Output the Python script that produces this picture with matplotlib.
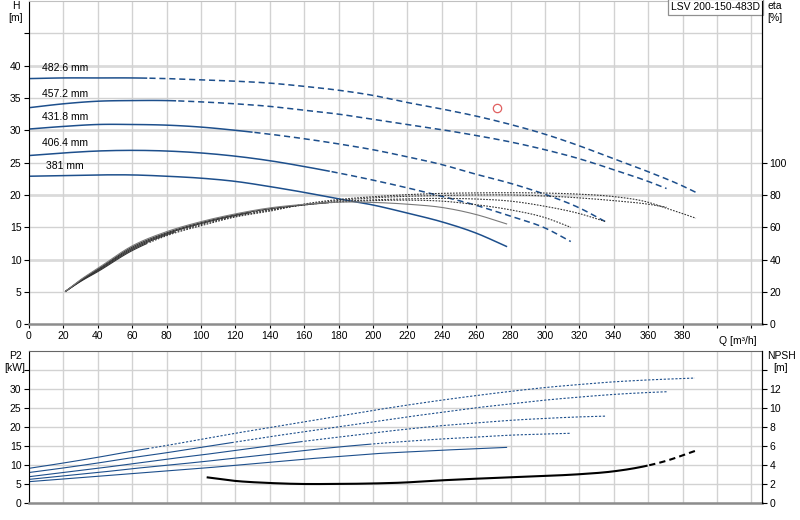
import numpy as np
import matplotlib
matplotlib.use("Agg")
import matplotlib.pyplot as plt

plt.rcParams['font.family'] = ['Liberation Sans', 'DejaVu Sans']
plt.rcParams['font.size'] = 7.5

# impeller diameters and their labels
diam_labels = ["482.6 mm", "457.2 mm", "431.8 mm", "406.4 mm", "381 mm"]
pump_name = "LSV 200-150-483D"

# head curves H [m] vs Q [m3/h]
q_482 = [0, 20, 40, 60, 80, 100, 120, 140, 160, 180, 200, 220, 240, 260, 280, 300, 320, 340, 360, 380, 387.8]
h_482 = [38.0, 38.1, 38.1, 38.1, 38.0, 37.8, 37.6, 37.3, 36.8, 36.2, 35.4, 34.3, 33.3, 32.2, 30.9, 29.4, 27.6, 25.6, 23.6, 21.4, 20.4]
q_457 = [0, 20, 40, 60, 80, 100, 120, 140, 160, 180, 200, 220, 240, 260, 280, 300, 320, 340, 360, 370.7]
h_457 = [33.5, 34.1, 34.5, 34.6, 34.6, 34.4, 34.1, 33.7, 33.1, 32.5, 31.7, 30.9, 30.1, 29.2, 28.2, 27.0, 25.6, 23.9, 22.1, 21.0]
q_431 = [0, 20, 40, 60, 80, 100, 120, 140, 160, 180, 200, 220, 240, 260, 280, 300, 320, 335]
h_431 = [30.2, 30.6, 30.9, 30.9, 30.8, 30.5, 30.0, 29.4, 28.7, 27.9, 27.0, 25.9, 24.7, 23.2, 21.8, 20.1, 18.0, 15.9]
q_406 = [0, 20, 40, 60, 80, 100, 120, 140, 160, 180, 200, 220, 240, 260, 280, 300, 315]
h_406 = [26.1, 26.5, 26.8, 26.9, 26.8, 26.5, 26.0, 25.3, 24.4, 23.4, 22.3, 21.1, 19.8, 18.4, 16.7, 14.9, 12.8]
q_381 = [0, 20, 40, 60, 80, 100, 120, 140, 160, 180, 200, 220, 240, 260, 278]
h_381 = [22.9, 23.0, 23.1, 23.1, 22.9, 22.6, 22.1, 21.3, 20.4, 19.4, 18.45, 17.2, 15.85, 14.1, 12.0]

# efficiency curves eta [%]
qe_482 = [21, 30, 40, 60, 80, 100, 120, 140, 160, 180, 200, 220, 240, 260, 280, 300, 320, 340, 360, 370, 380, 387.8]
eta_482 = [20.2, 26.5, 32.6, 45.6, 54.8, 61.0, 66.4, 70.0, 74.4, 77.2, 78.9, 80.2, 81.0, 81.3, 81.4, 81.2, 80.5, 79.0, 75.5, 72.0, 68.5, 65.6]
qe_457 = [21, 30, 40, 60, 80, 100, 120, 140, 160, 180, 200, 220, 240, 260, 280, 300, 320, 340, 360, 370.7]
eta_457 = [20.2, 26.8, 33.1, 46.3, 55.4, 61.7, 66.8, 70.6, 74.0, 76.6, 78.2, 79.2, 79.7, 80.0, 80.0, 79.4, 78.2, 76.5, 74.3, 72.4]
qe_431 = [21, 30, 40, 60, 80, 100, 120, 140, 160, 180, 200, 220, 240, 260, 280, 300, 320, 335]
eta_431 = [20.2, 27.0, 33.6, 47.0, 56.0, 62.3, 67.3, 71.0, 73.8, 75.9, 77.0, 77.6, 77.9, 77.5, 76.2, 73.0, 68.5, 63.6]
qe_406 = [21, 30, 40, 60, 80, 100, 120, 140, 160, 180, 200, 220, 240, 260, 280, 300, 315]
eta_406 = [20.2, 27.3, 34.1, 47.8, 56.6, 62.9, 67.8, 71.5, 73.9, 75.6, 76.5, 76.8, 76.2, 74.0, 70.8, 66.0, 60.0]
qe_381 = [21, 30, 40, 60, 80, 100, 120, 140, 160, 180, 200, 220, 240, 260, 278]
eta_381 = [20.2, 27.6, 34.6, 48.5, 57.3, 63.5, 68.3, 72.0, 74.2, 75.6, 75.4, 74.3, 72.3, 67.9, 62.0]

# shaft power P2 [kW]
qp_482 = [0, 20, 40, 60, 80, 100, 120, 140, 160, 180, 200, 220, 240, 260, 280, 300, 320, 340, 360, 387.2]
p_482 = [9.1, 10.5, 12.0, 13.6, 15.1, 16.7, 18.3, 19.8, 21.3, 22.8, 24.3, 25.7, 27.0, 28.2, 29.3, 30.3, 31.1, 31.8, 32.3, 32.8]
qp_457 = [0, 20, 40, 60, 80, 100, 120, 140, 160, 180, 200, 220, 240, 260, 280, 300, 320, 340, 360, 370.7]
p_457 = [8.0, 9.2, 10.5, 11.9, 13.2, 14.6, 16.0, 17.4, 18.7, 20.0, 21.3, 22.6, 23.8, 25.0, 26.0, 27.0, 27.8, 28.5, 29.0, 29.2]
qp_431 = [0, 20, 40, 60, 80, 100, 120, 140, 160, 180, 200, 220, 240, 260, 280, 300, 320, 335]
p_431 = [6.9, 8.0, 9.1, 10.3, 11.5, 12.6, 13.8, 15.0, 16.2, 17.3, 18.4, 19.4, 20.3, 21.0, 21.7, 22.2, 22.6, 22.8]
qp_406 = [0, 20, 40, 60, 80, 100, 120, 140, 160, 180, 200, 220, 240, 260, 280, 300, 315]
p_406 = [6.2, 7.1, 8.0, 9.0, 9.9, 10.8, 11.8, 12.8, 13.8, 14.7, 15.5, 16.2, 16.8, 17.3, 17.8, 18.1, 18.3]
qp_381 = [0, 20, 40, 60, 80, 100, 120, 140, 160, 180, 200, 220, 240, 260, 278]
p_381 = [5.6, 6.3, 7.0, 7.7, 8.4, 9.1, 9.9, 10.7, 11.5, 12.2, 12.9, 13.4, 13.85, 14.25, 14.6]

# NPSH required [m]
q_npsh = [103.3, 118.7, 140, 157.6, 177, 200, 215.7, 240, 260, 280, 300, 320, 339.7, 359, 370, 387.2]
npsh = [2.7, 2.34, 2.1, 2.0, 2.0, 2.05, 2.13, 2.38, 2.55, 2.7, 2.84, 3.02, 3.32, 3.9, 4.4, 5.46]

# duty point
duty_q = [272]
duty_h = [33.4]

# flow where each curve turns from solid to dashed
head_solid_to = [70, 86, 130, 175, 400]
power_solid_to = [70, 120, 160, 200, 400]

heads = [(q_482, h_482), (q_457, h_457), (q_431, h_431), (q_406, h_406), (q_381, h_381)]
etas = [(qe_482, eta_482), (qe_457, eta_457), (qe_431, eta_431), (qe_406, eta_406), (qe_381, eta_381)]
powers = [(qp_482, p_482), (qp_457, p_457), (qp_431, p_431), (qp_406, p_406), (qp_381, p_381)]

BLUE = "#1d4f8c"
GRID = "#d2d2d2"
W, H = 800, 520


def smooth(q, v, n=300):
    """Cubic Hermite through the read points so the curves are not angular."""
    q = np.asarray(q, float)
    v = np.asarray(v, float)
    m = np.gradient(v, q)
    qq = np.linspace(q[0], q[-1], n)
    idx = np.clip(np.searchsorted(q, qq) - 1, 0, len(q) - 2)
    h = q[idx + 1] - q[idx]
    t = (qq - q[idx]) / h
    h00 = 2 * t**3 - 3 * t**2 + 1
    h10 = t**3 - 2 * t**2 + t
    h01 = -2 * t**3 + 3 * t**2
    h11 = t**3 - t**2
    vv = h00 * v[idx] + h10 * h * m[idx] + h01 * v[idx + 1] + h11 * h * m[idx + 1]
    return qq, vv


def draw_curve(ax, q, v, q_break, color, lw, dashes):
    qq, vv = smooth(q, v)
    solid = qq <= q_break
    dashed = qq >= q_break
    if solid.sum() > 1:
        ax.plot(qq[solid], vv[solid], color=color, lw=lw, solid_capstyle="butt")
    if dashed.sum() > 1:
        ax.plot(qq[dashed], vv[dashed], color=color, lw=lw, dashes=dashes)


def style_axis(ax, xlim):
    ax.set_xlim(*xlim)
    ax.set_xticks(np.arange(0, 421, 20))
    ax.set_axisbelow(True)
    ax.grid(True, axis="x", color=GRID, lw=1)
    for s in ["left", "right"]:
        ax.spines[s].set_color("black")
    ax.spines["bottom"].set_color("#8c8c8c")
    ax.spines["bottom"].set_linewidth(1.8)
    ax.tick_params(axis="y", length=3.5, width=0.8, pad=2, labelsize=7.5)


fig = plt.figure(figsize=(W / 100, H / 100), dpi=100)
xlim = (0, 426.2)

# ---- top panel: head + efficiency ----
ax = fig.add_axes([29 / W, 1 - 324.3 / H, 733 / W, 323.3 / H])
style_axis(ax, xlim)
ax.set_ylim(0, 50)
ax.set_yticks(np.arange(0, 46, 5))
ax.set_yticklabels([str(v) if v <= 40 else "" for v in range(0, 46, 5)])
for yv in range(5, 50, 5):
    ax.axhline(yv, color="#dadada" if yv % 10 == 0 else GRID,
               lw=2.0 if yv % 10 == 0 else 1.0, zorder=0)
ax.spines["top"].set_color("#c0c0c0")
xlabels = [str(v) if v <= 380 else "" for v in range(0, 421, 20)]
ax.set_xticklabels(xlabels)
ax.tick_params(axis="x", length=3, width=0.8, pad=2, labelsize=7.5)
ax.text(423, -0.035, "Q [m³/h]", transform=ax.get_xaxis_transform(),
        ha="right", va="top", fontsize=7.5)

for (q, h), qb, lab in zip(heads, head_solid_to, diam_labels):
    draw_curve(ax, q, h, qb, BLUE, 1.1, (4, 2.5))
    ax.text(21, np.interp(21, q, h) + 1.5, lab, ha="center", va="center", fontsize=7.5)

ax.plot(duty_q, duty_h, "o", mfc="none", mec="#e06060", ms=6, mew=0.9)

ax_eta = ax.twinx()
ax_eta.set_ylim(0, 200)
ax_eta.set_yticks(np.arange(0, 101, 20))
ax_eta.tick_params(axis="y", length=3.5, width=0.8, pad=2, labelsize=7.5)
for s in ["top", "bottom", "left"]:
    ax_eta.spines[s].set_visible(False)
for i, ((q, e), qb) in enumerate(zip(etas, head_solid_to)):
    col = "#7a7a7a" if i == 4 else "#333333"
    draw_curve(ax_eta, q, e, qb, col, 0.8, (1.5, 1.2))

ax.text(0.997, 0.997, pump_name, transform=ax.transAxes, ha="right", va="top",
        fontsize=7.5, bbox=dict(boxstyle="square,pad=0.3", fc="white", ec="#909090", lw=0.9))

# ---- bottom panel: power + NPSH ----
axp = fig.add_axes([29 / W, 1 - 503 / H, 733 / W, 152.4 / H])
style_axis(axp, xlim)
axp.set_ylim(0, 40)
axp.set_yticks(np.arange(0, 36, 5))
axp.set_yticklabels([str(v) if v <= 30 else "" for v in range(0, 36, 5)])
axp.grid(True, axis="y", color=GRID, lw=1)
axp.set_xticklabels([])
axp.tick_params(axis="x", length=0)
axp.spines["top"].set_color("#666666")

for (q, p), qb in zip(powers, power_solid_to):
    draw_curve(axp, q, p, qb, BLUE, 0.8, (2, 1.5))

ax_n = axp.twinx()
ax_n.set_ylim(0, 16)
ax_n.set_yticks(np.arange(0, 15, 2))
ax_n.set_yticklabels([str(v) if v <= 12 else "" for v in range(0, 15, 2)])
ax_n.tick_params(axis="y", length=3.5, width=0.8, pad=2, labelsize=7.5)
for s in ["top", "bottom", "left"]:
    ax_n.spines[s].set_visible(False)
draw_curve(ax_n, q_npsh, npsh, 360, "black", 1.5, (3, 2))

# axis titles in the corners
fig.text(16 / W, 1 - 1 / H, "H\n[m]", ha="center", va="top", fontsize=7.5, linespacing=1.25)
fig.text(767 / W, 1 - 1 / H, "eta\n[%]", ha="left", va="top", fontsize=7.5, linespacing=1.25)
fig.text(15 / W, 1 - 351 / H, "P2\n[kW]", ha="center", va="top", fontsize=7.5, linespacing=1.25)
fig.text(781 / W, 1 - 351 / H, "NPSH\n[m]", ha="center", va="top", fontsize=7.5, linespacing=1.25)

fig.savefig("out.png", dpi=100)
